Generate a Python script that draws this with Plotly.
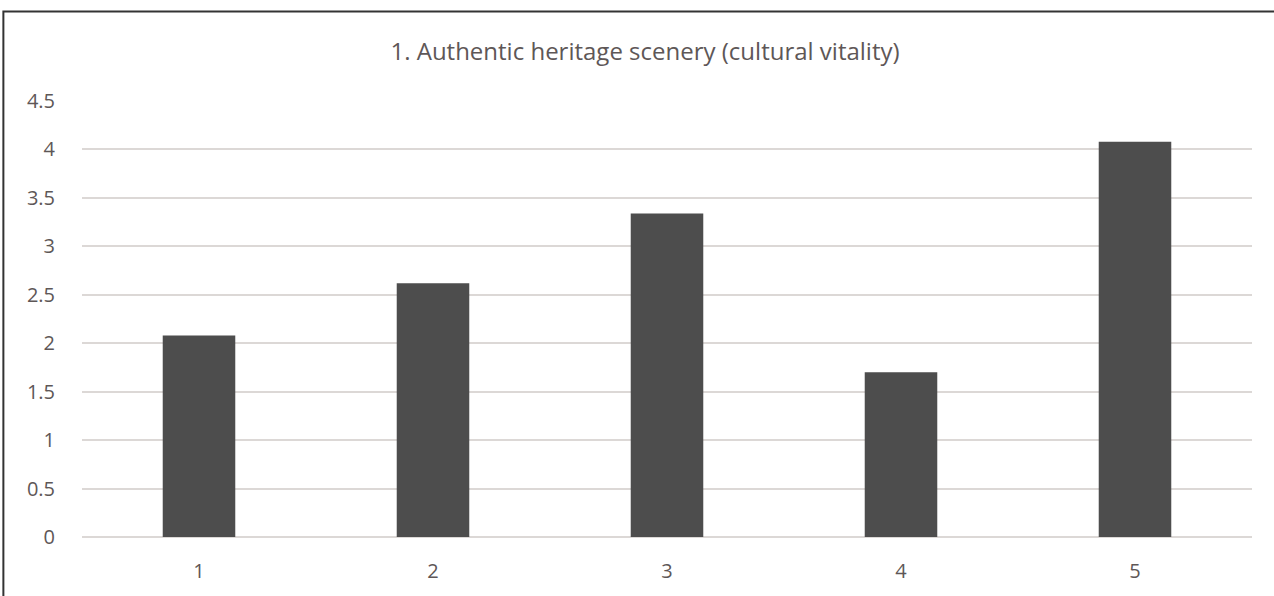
import plotly.graph_objects as go

# Chart data
categories = ["1", "2", "3", "4", "5"]
scores = [2.08, 2.62, 3.34, 1.70, 4.08]
y_ticks = [0, 0.5, 1, 1.5, 2, 2.5, 3, 3.5, 4, 4.5]
y_tick_labels = ["0", "0.5", "1", "1.5", "2", "2.5", "3", "3.5", "4", "4.5"]
title_text = "1. Authentic heritage scenery (cultural vitality)"

text_color = "#5e5757"
grid_color = "#dcd8d6"
bar_color = "#4d4d4d"

fig = go.Figure(
    go.Bar(
        x=categories,
        y=scores,
        width=0.31,
        marker=dict(color=bar_color, line=dict(width=0)),
        hoverinfo="x+y",
    )
)

# Outer frame (top and left edges visible)
fig.add_shape(
    type="rect",
    xref="paper", yref="paper",
    x0=-0.0672, x1=1.5, y0=-0.5, y1=1.205,
    line=dict(color="#333333", width=2),
    fillcolor="rgba(0,0,0,0)",
    layer="above",
)

fig.update_layout(
    width=1274,
    height=596,
    margin=dict(l=82, r=22, t=101, b=59),
    paper_bgcolor="white",
    plot_bgcolor="white",
    showlegend=False,
    font=dict(family="Open Sans, sans-serif", color=text_color, size=20),
    title=dict(
        text=title_text,
        x=645 / 1274, xref="container", xanchor="center",
        y=1 - 52 / 596, yref="container", yanchor="middle",
        font=dict(size=24, color=text_color),
    ),
    bargap=0.69,
    xaxis=dict(
        type="category",
        showgrid=False,
        showline=False,
        zeroline=False,
        ticks="",
        ticklabelstandoff=20,
        tickfont=dict(size=20, color=text_color),
    ),
    yaxis=dict(
        range=[0, 4.5],
        tickvals=y_ticks,
        ticktext=y_tick_labels,
        showgrid=True,
        gridcolor=grid_color,
        gridwidth=1.5,
        zeroline=True,
        zerolinecolor=grid_color,
        zerolinewidth=1.5,
        showline=False,
        ticks="",
        ticklabelstandoff=26,
        tickfont=dict(size=20, color=text_color),
    ),
)

fig.write_html("out.html")
